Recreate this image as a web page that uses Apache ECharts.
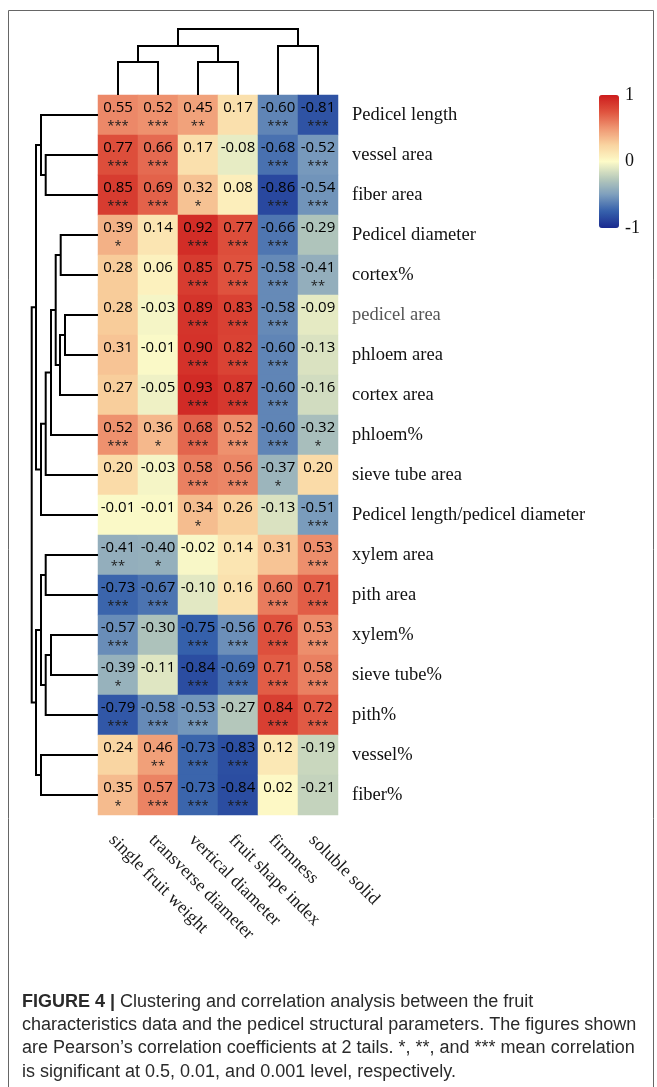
<!DOCTYPE html>
<html>
<head>
<meta charset="utf-8">
<script src="https://cdn.jsdelivr.net/npm/echarts@6/dist/echarts.min.js"></script>
<style>html,body{margin:0;padding:0;background:#fff}#c{width:657px;height:1087px}</style>
</head>
<body>
<div id="c"></div>
<script>
// ---- data ----
const columns = ['single fruit weight','transverse diameter','vertical diameter','fruit shape index','firmness','soluble solid'];
const rows = ['Pedicel length','vessel area','fiber area','Pedicel diameter','cortex%','pedicel area','phloem area','cortex area','phloem%','sieve tube area','Pedicel length/pedicel diameter','xylem area','pith area','xylem%','sieve tube%','pith%','vessel%','fiber%'];

const singleFruitWeight  = [0.55,0.77,0.85,0.39,0.28,0.28,0.31,0.27,0.52,0.20,-0.01,-0.41,-0.73,-0.57,-0.39,-0.79,0.24,0.35];
const transverseDiameter = [0.52,0.66,0.69,0.14,0.06,-0.03,-0.01,-0.05,0.36,-0.03,-0.01,-0.40,-0.67,-0.30,-0.11,-0.58,0.46,0.57];
const verticalDiameter   = [0.45,0.17,0.32,0.92,0.85,0.89,0.90,0.93,0.68,0.58,0.34,-0.02,-0.10,-0.75,-0.84,-0.53,-0.73,-0.73];
const fruitShapeIndex    = [0.17,-0.08,0.08,0.77,0.75,0.83,0.82,0.87,0.52,0.56,0.26,0.14,0.16,-0.56,-0.69,-0.27,-0.83,-0.84];
const firmness           = [-0.60,-0.68,-0.86,-0.66,-0.58,-0.58,-0.60,-0.60,-0.60,-0.37,-0.13,0.31,0.60,0.76,0.71,0.84,0.12,0.02];
const solubleSolid       = [-0.81,-0.52,-0.54,-0.29,-0.41,-0.09,-0.13,-0.16,-0.32,0.20,-0.51,0.53,0.71,0.53,0.58,0.72,-0.19,-0.21];

const starsSFW  = ['***','***','***','*','','','','','***','','','**','***','***','*','***','','*'];
const starsTD   = ['***','***','***','','','','','','*','','','*','***','','','***','**','***'];
const starsVD   = ['**','','*','***','***','***','***','***','***','***','*','','','***','***','***','***','***'];
const starsFSI  = ['','','','***','***','***','***','***','***','***','','','','***','***','','***','***'];
const starsFIRM = ['***','***','***','***','***','***','***','***','***','*','','','***','***','***','***','',''];
const starsSS   = ['***','***','***','','**','','','','*','','***','***','***','***','***','***','',''];

// dendrogram merges: [childA, childB, height]; leaves are display indices, new nodes numbered after leaves
const rowMerges = [
  [1,2,52.3],[0,18,57],[3,4,37.3],[5,6,33],[21,7,38],[20,22,42.3],[23,8,47],[24,9,52.3],[25,10,57],[19,26,62],
  [11,12,52.3],[13,14,47],[29,15,52.3],[28,30,57],[16,17,57],[31,32,62],[27,33,66.3]
];
const colMerges = [[0,1,33],[2,3,33],[6,7,49],[4,5,49],[8,9,66]];

const colorTicks = [-1, 0, 1];

// ---- build ----
const colValues = [singleFruitWeight, transverseDiameter, verticalDiameter, fruitShapeIndex, firmness, solubleSolid];
const colStars = [starsSFW, starsTD, starsVD, starsFSI, starsFIRM, starsSS];
const heat = [];
colValues.forEach((vals, c) => vals.forEach((v, r) => heat.push([c, r, v, colStars[c][r]])));

function dendro(merges, nLeaves) {
  const pos = [], h = [];
  for (let i = 0; i < nLeaves; i++) { pos.push(i); h.push(0); }
  const segs = [];
  merges.forEach(m => {
    const [a, b, ht] = m;
    segs.push([pos[a], h[a], pos[b], h[b], ht]);
    pos.push((pos[a] + pos[b]) / 2); h.push(ht);
  });
  return segs;
}
const rowSegs = dendro(rowMerges, rows.length);
const colSegs = dendro(colMerges, columns.length);

const chart = echarts.init(document.getElementById('c'), null, {renderer: 'canvas'});
const serif = '"Liberation Serif", "DejaVu Serif", serif';
const cellFont = '"Open Sans", "Noto Sans", sans-serif';
const capFont = '"Liberation Sans", Arial, sans-serif';

const option = {
  animation: false,
  backgroundColor: '#fff',
  grid: [
    {left: 98, top: 95, width: 240, height: 720},
    {left: 28, top: 95, width: 70, height: 720},
    {left: 98, top: 25, width: 240, height: 70},
    {left: 599, top: 95, width: 20, height: 133}
  ],
  xAxis: [
    {type: 'category', gridIndex: 0, data: columns, position: 'bottom',
     axisLine: {show: false}, axisTick: {show: false},
     axisLabel: {rotate: -45, interval: 0, margin: 16, verticalAlign: 'top', align: 'left', fontFamily: serif, fontSize: 18, color: '#1a1a1a'}},
    {type: 'value', gridIndex: 1, min: 0, max: 70, inverse: true, show: false},
    {type: 'value', gridIndex: 2, min: -0.5, max: 5.5, show: false},
    {type: 'value', gridIndex: 3, min: 0, max: 1, show: false}
  ],
  yAxis: [
    {type: 'category', gridIndex: 0, data: rows, inverse: true, position: 'right',
     axisLine: {show: false}, axisTick: {show: false},
     axisLabel: {interval: 0, margin: 14, fontFamily: serif, fontSize: 18.5, color: '#111',
       formatter: v => v === 'pedicel area' ? '{g|' + v + '}' : v,
       rich: {g: {color: '#555', fontFamily: serif, fontSize: 18.5}}}},
    {type: 'value', gridIndex: 1, min: -0.5, max: 17.5, inverse: true, show: false},
    {type: 'value', gridIndex: 2, min: 0, max: 70, show: false},
    {type: 'value', gridIndex: 3, min: -1, max: 1, interval: 1, position: 'right',
     axisLine: {show: false}, axisTick: {show: false}, splitLine: {show: false},
     axisLabel: {margin: 6, fontFamily: serif, fontSize: 18, color: '#111'}}
  ],
  visualMap: [{
    type: 'continuous', min: -1, max: 1, seriesIndex: 0, dimension: 2,
    show: true, calculable: false, orient: 'vertical', left: 599, top: 95,
    itemWidth: 20, itemHeight: 133, text: null, padding: 0,
    inRange: {color: ['#1a2a8f','#3560ab','#7d9ebd','#b9cbbb','#fdfbc8','#f9d3a0','#ef9672','#df523e','#cc1c1c']}
  }],
  series: [
    {type: 'heatmap', xAxisIndex: 0, yAxisIndex: 0, data: heat,
     itemStyle: {borderWidth: 0},
     label: {show: true, offset: [0, 2],
       formatter: p => '{v|' + p.data[2].toFixed(2) + '}\n{s|' + (p.data[3] || ' ') + '}',
       rich: {
         v: {fontFamily: cellFont, fontSize: 15, color: '#000', lineHeight: 18},
         s: {fontFamily: cellFont, fontSize: 13, color: '#1a1a1a', lineHeight: 18}
       }}},
    {type: 'custom', xAxisIndex: 1, yAxisIndex: 1, data: rowSegs,
     renderItem: (params, api) => {
       const p1 = api.coord([api.value(1), api.value(0)]);
       const p2 = api.coord([api.value(4), api.value(0)]);
       const p3 = api.coord([api.value(4), api.value(2)]);
       const p4 = api.coord([api.value(3), api.value(2)]);
       return {type: 'polyline', shape: {points: [p1,p2,p3,p4]}, style: {stroke: '#000', lineWidth: 2, fill: null}};
     }},
    {type: 'custom', xAxisIndex: 2, yAxisIndex: 2, data: colSegs,
     renderItem: (params, api) => {
       const p1 = api.coord([api.value(0), api.value(1)]);
       const p2 = api.coord([api.value(0), api.value(4)]);
       const p3 = api.coord([api.value(2), api.value(4)]);
       const p4 = api.coord([api.value(2), api.value(3)]);
       return {type: 'polyline', shape: {points: [p1,p2,p3,p4]}, style: {stroke: '#000', lineWidth: 2, fill: null}};
     }},
    {type: 'scatter', xAxisIndex: 3, yAxisIndex: 3, data: colorTicks.map(t => [0.5, t]), symbolSize: 0, silent: true}
  ],
  graphic: [
    {type: 'rect', left: 6, top: 8, shape: {width: 645, height: 1100}, style: {fill: null, stroke: '#666', lineWidth: 1}, silent: true},
    {type: 'text', left: 22, top: 990, style: {
      text: '{b|FIGURE 4 |} Clustering and correlation analysis between the fruit\ncharacteristics data and the pedicel structural parameters. The figures shown\nare Pearson\u2019s correlation coefficients at 2 tails. *, **, and *** mean correlation\nis significant at 0.5, 0.01, and 0.001 level, respectively.',
      fontFamily: capFont, fontSize: 18, lineHeight: 23.3, fill: '#2a2a2a',
      rich: {b: {fontFamily: capFont, fontSize: 18, fontWeight: 'bold', fill: '#2a2a2a', lineHeight: 23.3}}
    }}
  ]
};
chart.setOption(option);
</script>
</body>
</html>
